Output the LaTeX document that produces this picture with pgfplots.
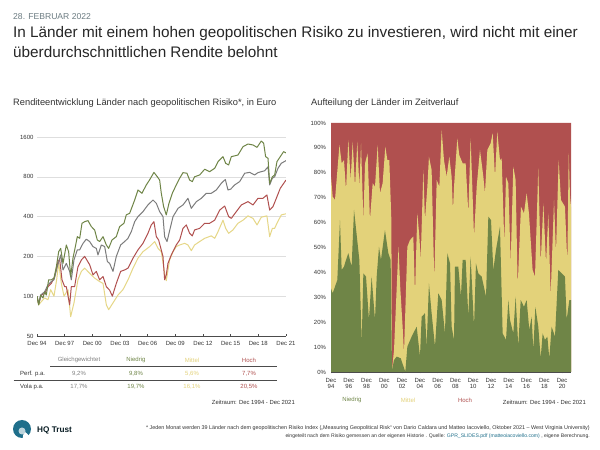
\documentclass[border=0pt]{standalone}
\usepackage{fontspec}
\setmainfont{Liberation Sans}
\usepackage{pgfplots}
\pgfplotsset{compat=1.18}
\definecolor{cgreen}{HTML}{6F8547}
\definecolor{cyellow}{HTML}{E3D27A}
\definecolor{cred}{HTML}{B0504F}
\definecolor{cgray}{HTML}{7C7C7C}
\definecolor{ctext}{HTML}{333333}
\definecolor{cteal}{HTML}{1F6F8B}
\newcommand{\fs}[1]{\fontsize{#1}{#1}\selectfont}
\begin{document}
\begin{tikzpicture}[x=1pt,y=1pt]
\path[use as bounding box,fill=white] (0,0) rectangle (600,450);
% header text
\node[anchor=west,inner sep=0,text=gray!80!cteal] at (13,450-16.5) {\fs{8.6}28. FEBRUAR 2022};
\node[anchor=west,inner sep=0,text=black!85] at (13,450-33.5) {\fs{15.3}In Länder mit einem hohen geopolitischen Risiko zu investieren, wird nicht mit einer};
\node[anchor=west,inner sep=0,text=black!85] at (13,450-52.5) {\fs{15.3}überdurchschnittlichen Rendite belohnt};
\node[anchor=west,inner sep=0,text=ctext] at (13,450-103) {\fs{9.3}Renditeentwicklung Länder nach geopolitischen Risiko*, in Euro};
\node[anchor=west,inner sep=0,text=ctext] at (311,450-103) {\fs{9.3}Aufteilung der Länder im Zeitverlauf};
% left axis
\begin{axis}[at={(37pt,114pt)},anchor=south west,width=249pt,height=199pt,scale only axis,
 ymode=log,log basis y=2,ymin=50,ymax=1600,xmin=0,xmax=27,
 axis x line=bottom,axis y line=left,x axis line style={-,draw=black!70},y axis line style={draw=none},
 ytick={50,100,200,400,800,1600},yticklabels={50,100,200,400,800,1600},
 xtick={0,3,6,9,12,15,18,21,24,27},xticklabels={Dec 94,Dec 97,Dec 00,Dec 03,Dec 06,Dec 09,Dec 12,Dec 15,Dec 18,Dec 21},
 ymajorgrids,grid style={black!13,line width=0.5pt},
 ytick style={draw=none},xtick style={draw=black!70,line width=0.4pt},tick align=inside,major tick length=2pt,
 xticklabel style={font=\fs{6},text=ctext,yshift=-2pt},yticklabel style={font=\fs{6},text=ctext},
 every axis plot/.append style={line width=1.0pt,line join=round}]
\addplot[color=cyellow!90!white] coordinates {(0,100)(.18,86)(.47,91)(.83,97)(1.19,94)(1.48,112)(1.84,100)(2.13,133)(2.35,179)(2.64,125)(2.93,100)(3.36,112)(3.65,70)(4.01,89)(4.44,133)(4.81,154)(5.17,163)(5.71,149)(6.25,137)(6.79,129)(7.16,125)(7.52,86)(7.77,79)(8.24,89)(8.78,102)(9.32,112)(9.87,133)(10.41,163)(10.95,194)(11.49,217)(12.21,237)(12.76,259)(13.12,230)(13.48,217)(13.84,149)(14.02,131)(14.38,188)(14.75,217)(15.1,237)(15.47,244)(16,251)(16.37,244)(16.73,221)(17.09,244)(17.64,259)(18.18,274)(18.9,286)(19.27,274)(19.63,308)(20.17,376)(20.46,326)(20.78,299)(21.25,317)(21.79,356)(22.34,376)(22.88,405)(23.42,388)(23.86,346)(24.32,396)(24.93,405)(25.23,282)(25.52,326)(25.77,326)(26.02,356)(26.49,412)(27,420)};
\addplot[color=cred] coordinates {(0,100)(.18,87.5)(.47,102)(.83,105)(1.19,118)(1.55,125)(1.92,141)(2.28,183)(2.46,190)(2.71,133)(3,118)(3.18,118)(3.54,86)(3.72,118)(4.08,118)(4.44,167)(4.81,188)(5.17,200)(5.71,173)(6.07,145)(6.43,154)(6.79,133)(7.16,141)(7.52,118)(7.88,111)(8.17,100)(8.6,125)(9.07,154)(9.5,158)(9.87,163)(10.41,194)(10.95,224)(11.49,251)(12.03,299)(12.39,346)(12.68,366)(12.94,282)(13.19,266)(13.66,200)(13.84,133)(14.02,145)(14.2,177)(14.56,205)(15.1,244)(15.47,266)(15.83,326)(16.19,346)(16.55,299)(16.84,286)(17.09,317)(17.64,326)(18.18,356)(18.72,356)(19.27,376)(19.81,448)(20.35,481)(20.78,400)(21.07,388)(21.61,436)(22.16,490)(22.88,519)(23.42,490)(23.96,550)(24.5,550)(24.93,583)(25.23,448)(25.59,476)(25.95,550)(26.38,655)(27,756)};
\addplot[color=cgray] coordinates {(0,100)(.18,87.5)(.4,102)(.83,108)(1.19,122)(1.55,129)(1.84,133)(2.2,167)(2.57,205)(2.82,158)(3.18,177)(3.54,154)(3.72,133)(4.01,188)(4.37,224)(4.63,224)(4.99,251)(5.35,270)(5.71,259)(6.07,237)(6.43,230)(6.61,205)(6.98,244)(7.34,237)(7.63,183)(7.88,177)(8.24,154)(8.6,200)(9.07,244)(9.5,259)(9.87,274)(10.23,308)(10.59,366)(10.95,400)(11.49,436)(12.03,490)(12.58,534)(12.94,504)(13.3,436)(13.66,400)(13.84,282)(14.1,259)(14.4,317)(14.75,400)(15.3,462)(15.83,490)(16.37,550)(16.73,462)(17.28,519)(17.82,550)(18.36,600)(18.9,600)(19.44,636)(19.98,714)(20.42,764)(20.71,636)(21,645)(21.43,694)(21.98,736)(22.52,851)(23.06,864)(23.6,826)(23.96,860)(24.32,875)(24.68,888)(25.05,952)(25.23,694)(25.52,780)(25.77,800)(26.13,928)(26.49,1012)(27,1060)};
\addplot[color=cgreen] coordinates {(0,100)(.18,86)(.4,102)(.65,97)(.83,108)(1.01,102)(1.26,133)(1.55,133)(1.84,137)(2.1,167)(2.35,217)(2.57,230)(2.82,177)(3.18,244)(3.43,217)(3.65,141)(3.9,194)(4.16,237)(4.37,282)(4.63,274)(4.88,356)(5.17,366)(5.53,373)(5.89,336)(6.25,317)(6.54,266)(6.79,259)(7.16,282)(7.52,244)(7.77,230)(8.13,266)(8.6,282)(8.96,336)(9.43,356)(9.68,412)(10.05,424)(10.59,534)(10.95,636)(11.38,600)(11.85,694)(12.2,756)(12.68,864)(13.05,800)(13.3,756)(13.48,600)(13.73,476)(14.02,412)(14.31,504)(14.67,600)(15.1,694)(15.47,780)(15.83,860)(16.26,851)(16.55,756)(16.84,736)(17.09,800)(17.64,826)(18.18,912)(18.72,875)(19.27,928)(19.63,1042)(20.17,1136)(20.46,1012)(20.78,982)(21.07,1136)(21.79,1168)(22.34,1352)(22.88,1416)(23.42,1392)(23.86,1336)(24.32,1492)(24.58,1432)(24.79,1136)(25.05,1104)(25.23,714)(25.52,800)(25.77,826)(26.02,1042)(26.38,1136)(26.74,1240)(27,1212)};
\end{axis}
% right axis
\begin{axis}[at={(331pt,78pt)},anchor=south west,width=240pt,height=249pt,scale only axis,
 xmin=0,xmax=27,ymin=0,ymax=100,axis x line=bottom,axis y line=left,
 x axis line style={-,draw=black!70},y axis line style={draw=none},
 ytick={0,10,...,100},yticklabels={0\%,10\%,20\%,30\%,40\%,50\%,60\%,70\%,80\%,90\%,100\%},
 xtick={0,2,...,26},xticklabels={{Dec\\94},{Dec\\96},{Dec\\98},{Dec\\00},{Dec\\02},{Dec\\04},{Dec\\06},{Dec\\08},{Dec\\10},{Dec\\12},{Dec\\14},{Dec\\16},{Dec\\18},{Dec\\20}},
 ytick style={draw=none},xtick style={draw=black!70,line width=0.4pt},tick align=outside,major tick length=1.5pt,
 xticklabel style={font=\fs{6},text=ctext,align=center,yshift=-1pt},yticklabel style={font=\fs{6},text=ctext},
 axis on top=true]
\addplot[fill=cred,draw=none] coordinates {(0,0)(0,100)(27,100)(27,0)} \closedcycle;
\addplot[fill=cyellow,draw=none] coordinates {(0,78.4)(.19,70.4)(.45,69.1)(.95,91.2)(1.2,83.8)(1.46,85.1)(1.69,73.1)(1.95,93.2)(2.21,77.1)(2.44,92.5)(2.7,74.4)(2.96,92.5)(3.19,74.4)(3.38,91.8)(3.64,61)(3.83,83.8)(4.12,87.8)(4.38,61)(4.69,75.8)(4.95,74.4)(5.25,91.2)(5.51,71.8)(5.81,75.8)(6.11,90.5)(6.34,85.1)(6.56,85.1)(6.79,61)(6.86,.8)(7.09,8.8)(7.59,50.3)(7.79,34)(8.06,18)(8.21,7.5)(8.59,50.3)(8.89,53)(9.26,54.4)(9.45,31.6)(9.71,63.7)(9.94,54.4)(10.09,45)(10.39,81.1)(10.57,61)(10.84,74.4)(11.02,86.5)(11.32,81.1)(11.62,36.9)(11.89,77.1)(12.19,74.4)(12.45,97.2)(12.71,85.1)(13.01,78.4)(13.31,86.5)(13.57,78.4)(13.72,65)(13.84,74.4)(14.21,93.8)(14.43,87.1)(14.81,83.8)(15.15,83.8)(15.45,63.7)(15.71,93.8)(16.09,54.4)(16.39,74.4)(16.76,89.2)(17.14,78.4)(17.32,71.8)(17.59,89.2)(17.96,91.8)(18.19,95.9)(18.45,78.4)(18.71,96.5)(19.01,85.1)(19.2,85.8)(19.5,51.7)(19.69,78.4)(19.95,75.8)(20.21,43.6)(20.51,82.5)(20.77,77.1)(21,34.3)(21.37,66.4)(21.71,63.7)(22.01,71.8)(22.27,63.7)(22.68,41)(22.95,38.3)(23.32,81.8)(23.59,43.6)(23.89,67.7)(24.19,43.6)(24.45,63.7)(24.71,30.3)(25.09,69.1)(25.31,47.7)(25.61,85.1)(25.87,69.1)(26.32,66.4)(26.59,43.6)(26.74,87.8)(26.89,70.4)(27,66.4)} \closedcycle;
\addplot[fill=cgreen,draw=none] coordinates {(0,33.6)(.19,31.6)(.45,34.3)(.71,36.9)(1.01,61)(1.2,41)(1.46,42.3)(1.69,45)(1.95,47.7)(2.32,42.3)(2.59,65.1)(2.89,55)(3.19,45)(3.45,11.5)(3.64,39.6)(3.94,38.3)(4.27,20.9)(4.57,38.3)(4.95,20.9)(5.14,38.3)(5.4,50.3)(5.62,45)(6.07,57)(6.45,47.7)(6.71,45)(6.86,.8)(7.09,4.8)(7.39,6.2)(7.84,5.5)(8.36,.1)(8.59,10.2)(9.07,14.2)(9.64,18.2)(10.01,6.2)(10.2,22.2)(10.57,23.6)(10.76,10.2)(11.02,35.6)(11.32,23.6)(11.7,10.2)(12.07,31.6)(12.45,28.9)(12.82,15.5)(13.09,47.7)(13.39,43.6)(13.57,18.2)(13.84,12.9)(13.95,42.3)(14.32,42.3)(14.62,30.3)(14.81,45)(15.15,45)(15.45,22.2)(15.71,46.3)(16.09,18.2)(16.31,43.6)(16.57,39.6)(16.95,38.3)(17.44,30.3)(17.7,62.4)(18,61)(18.26,41)(18.56,49)(19.01,58.4)(19.31,15.5)(19.69,12.9)(19.95,28.9)(20.14,20.9)(20.51,15.5)(20.77,30.3)(21.07,10.2)(21.34,28.9)(21.71,26.2)(22.01,28.9)(22.31,16.9)(22.57,22.2)(22.76,8.8)(22.99,26.2)(23.32,18.2)(23.59,5.5)(23.81,15.5)(24.07,12.9)(24.34,14.2)(24.56,5.5)(24.82,18.2)(25.2,14.2)(25.57,41)(25.95,39.6)(26.32,38.3)(26.51,20.9)(26.81,28.9)(27,28.9)} \closedcycle;
\end{axis}
% table under left chart
\node[inner sep=0,text=gray] at (79,450-360) {\fs{6}Gleichgewichtet};
\node[inner sep=0,text=cgreen] at (136,450-360) {\fs{6}Niedrig};
\node[inner sep=0,text=cyellow] at (192,450-360) {\fs{6}Mittel};
\node[inner sep=0,text=cred] at (249,450-360) {\fs{6}Hoch};
\draw[black!70,line width=0.5pt] (50,450-366.5) -- (277,450-366.5);
\draw[black!70,line width=0.5pt] (13.5,450-380.5) -- (277,450-380.5);
\node[anchor=west,inner sep=0,text=ctext] at (20,450-374) {\fs{6}Perf. p.a.};
\node[anchor=west,inner sep=0,text=ctext] at (20,450-387) {\fs{6}Vola p.a.};
\node[inner sep=0,text=gray] at (79,450-374) {\fs{6}9,2\%};
\node[inner sep=0,text=cgreen] at (136,450-374) {\fs{6}9,8\%};
\node[inner sep=0,text=cyellow] at (192,450-374) {\fs{6}5,6\%};
\node[inner sep=0,text=cred] at (249,450-374) {\fs{6}7,7\%};
\node[inner sep=0,text=gray] at (79,450-387) {\fs{6}17,7\%};
\node[inner sep=0,text=cgreen] at (136,450-387) {\fs{6}19,7\%};
\node[inner sep=0,text=cyellow] at (192,450-387) {\fs{6}16,1\%};
\node[inner sep=0,text=cred] at (249,450-387) {\fs{6}20,5\%};
\node[anchor=east,inner sep=0,text=ctext] at (295,450-402) {\fs{5.9}Zeitraum: Dec 1994 - Dec 2021};
\node[anchor=east,inner sep=0,text=ctext] at (586,450-402) {\fs{5.9}Zeitraum: Dec 1994 - Dec 2021};
\node[inner sep=0,text=cgreen] at (352,450-400) {\fs{6}Niedrig};
\node[inner sep=0,text=cyellow] at (408,450-400) {\fs{6}Mittel};
\node[inner sep=0,text=cred] at (465,450-400) {\fs{6}Hoch};
% logo
\fill[cteal] (22,450-429) circle (9);
\fill[white] (24,450-431) -- (34,450-440) -- (22,450-442) -- cycle;
\fill[white!70!cteal] (22,450-431) circle (3.5);
\node[anchor=west,inner sep=0,text=black!75!cteal] at (37,450-430) {\fs{8.2}\bfseries HQ Trust};
% footnote
\node[anchor=east,inner sep=0,text=ctext] at (590,450-428) {\fs{5.4}* Jeden Monat werden 39 Länder nach dem geopolitischen Risiko Index („Measuring Geopolitical Risk“ von Dario Caldara und Matteo Iacoviello, Oktober 2021 – West Virginia University)};
\node[anchor=east,inner sep=0,text=ctext] at (590,450-436) {\fs{5.1}eingeteilt nach dem Risiko gemessen an der  eigenen Historie . Quelle: \textcolor{cteal}{GPR\_SLIDES.pdf (matteoiacoviello.com)} , eigene Berechnung.};
\end{tikzpicture}
\end{document}
